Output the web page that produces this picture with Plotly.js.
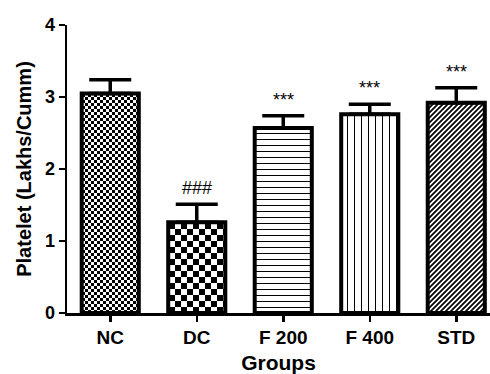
<!DOCTYPE html>
<html>
<head>
<meta charset="utf-8">
<script src="https://cdn.plot.ly/plotly-3.0.1.min.js"></script>
<style>html,body{margin:0;padding:0;background:#fff;}#chart{width:490px;height:374px;}</style>
</head>
<body>
<div id="chart"></div>
<script>
const groups = ["NC", "DC", "F 200", "F 400", "STD"];
const means = [3.05, 1.26, 2.57, 2.76, 2.92];
const sems = [0.19, 0.25, 0.17, 0.14, 0.21];
const sigLabels = ["", "###", "***", "***", "***"];
const patternShapes = ["+", "x", "-", "|", "/"];
const patternKinds = ["checker3", "checker6", "hlines", "vlines", "diag"];

const FONT = "Liberation Sans, Arial, sans-serif";

const traces = groups.map((g, i) => ({
  type: "bar",
  x: [g],
  y: [means[i]],
  width: 0.66,
  marker: {
    color: "#ffffff",
    line: {color: "#000000", width: 4},
    pattern: {shape: patternShapes[i], fgcolor: "#000000", bgcolor: "#ffffff", size: 6, solidity: 0.3, fillmode: "overlay"}
  },
  error_y: {type: "data", symmetric: false, array: [sems[i]], arrayminus: [0], color: "#000000", thickness: 3.5, width: 21},
  showlegend: false,
  hoverinfo: "none"
}));

const annotations = groups.map((g, i) => ({
  x: g, y: means[i] + sems[i], xref: "x", yref: "y",
  text: sigLabels[i], showarrow: false, yanchor: "bottom", yshift: 4,
  font: {family: FONT, size: 18, color: "#000000"}
})).filter(a => a.text);

const layout = {
  width: 490, height: 374,
  margin: {l: 67, r: 0, t: 25, b: 61},
  paper_bgcolor: "#fff", plot_bgcolor: "#fff",
  barmode: "overlay",
  font: {family: FONT, color: "#000"},
  xaxis: {
    type: "category", categoryorder: "array", categoryarray: groups,
    range: [-0.5, 4.39],
    showline: true, linecolor: "#000", linewidth: 2.5,
    ticks: "outside", ticklen: 6, tickwidth: 2.5, tickcolor: "#000",
    tickfont: {size: 19, family: FONT, weight: "bold", color: "#000"},
    showgrid: false, zeroline: false,
    title: {text: "<b>Groups</b>", font: {size: 21, family: FONT, color: "#000"}, standoff: 10}
  },
  yaxis: {
    range: [0, 4], dtick: 1,
    showline: true, linecolor: "#000", linewidth: 2.5,
    ticks: "outside", ticklen: 6, tickwidth: 2.5, tickcolor: "#000",
    tickfont: {size: 18, family: FONT, weight: "bold", color: "#000"},
    showgrid: false, zeroline: false,
    title: {text: "<b>Platelet (Lakhs/Cumm)</b>", font: {size: 20, family: FONT, color: "#000"}, standoff: 8}
  },
  annotations: annotations
};

const NS = "http://www.w3.org/2000/svg";
function el(tag, attrs, parent) {
  const e = document.createElementNS(NS, tag);
  for (const k in attrs) e.setAttribute(k, attrs[k]);
  parent.appendChild(e);
  return e;
}
function rebuild(pat, kind) {
  while (pat.firstChild) pat.removeChild(pat.firstChild);
  pat.setAttribute("patternUnits", "userSpaceOnUse");
  pat.removeAttribute("patternTransform");
  pat.setAttribute("x", 0); pat.setAttribute("y", 0);
  let w, h;
  if (kind === "checker3" || kind === "checker6") {
    const c = kind === "checker3" ? 3 : 6;
    w = h = 2 * c;
    el("rect", {x: 0, y: 0, width: w, height: h, fill: "#fff"}, pat);
    el("rect", {x: 0, y: 0, width: c, height: c, fill: "#000", "shape-rendering": "crispEdges"}, pat);
    el("rect", {x: c, y: c, width: c, height: c, fill: "#000", "shape-rendering": "crispEdges"}, pat);
  } else if (kind === "hlines") {
    w = 6; h = 6;
    el("rect", {x: 0, y: 0, width: w, height: h, fill: "#fff"}, pat);
    el("rect", {x: 0, y: 0, width: w, height: 1.2, fill: "#000", "shape-rendering": "crispEdges"}, pat);
  } else if (kind === "vlines") {
    w = 7; h = 7;
    el("rect", {x: 0, y: 0, width: w, height: h, fill: "#fff"}, pat);
    el("rect", {x: 0, y: 0, width: 1.4, height: h, fill: "#000", "shape-rendering": "crispEdges"}, pat);
  } else {
    w = 5; h = 5;
    el("rect", {x: 0, y: 0, width: w, height: h, fill: "#fff"}, pat);
    el("path", {d: "M-1,6 L6,-1 M-1,1 L1,-1 M4,6 L6,4", stroke: "#000", "stroke-width": 1.7, fill: "none"}, pat);
  }
  pat.setAttribute("width", w);
  pat.setAttribute("height", h);
}

Plotly.newPlot("chart", traces, layout, {staticPlot: true}).then(gd => {
  const bars = gd.querySelectorAll(".barlayer .trace");
  bars.forEach((tr, i) => {
    const path = tr.querySelector(".point path");
    if (!path) return;
    const fill = path.style.fill || path.getAttribute("fill") || "";
    const m = fill.match(/#([^"')]+)/);
    if (!m) return;
    const pat = document.getElementById(m[1]);
    if (pat) rebuild(pat, patternKinds[i]);
  });
});
</script>
</body>
</html>
